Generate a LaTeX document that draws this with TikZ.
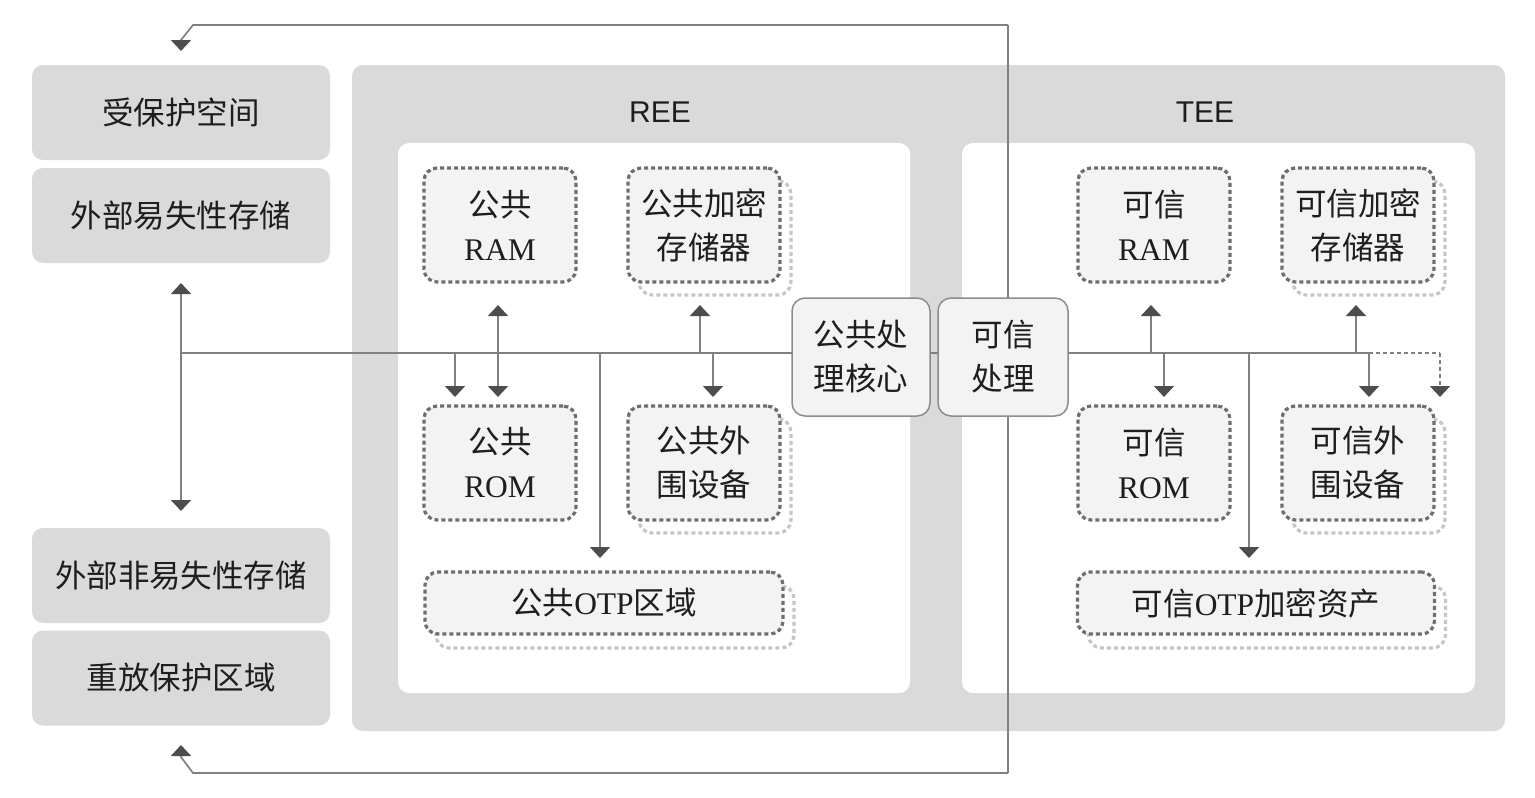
\documentclass[tikz,border=0pt]{standalone}
\usepackage{fontspec}
\setmainfont{Liberation Serif}
\newfontfamily\cjk{Noto Sans CJK SC}
\newfontfamily\sansf{Liberation Sans}
\usetikzlibrary{arrows.meta}
\definecolor{panel}{HTML}{DADADA}
\definecolor{dfill}{HTML}{F3F3F3}
\definecolor{dotc}{HTML}{6E6E6E}
\definecolor{shc}{HTML}{C6C6C6}
\definecolor{linec}{HTML}{808080}
\definecolor{arrc}{HTML}{4D4D4D}
\definecolor{txt}{HTML}{1E1E1E}
\definecolor{pborder}{HTML}{8C8C8C}
\begin{document}
\begin{tikzpicture}[x=1pt,y=-1pt,
  font=\fontsize{31.5}{44}\selectfont,
  panelbox/.style={fill=panel, rounded corners=11pt, inner sep=0pt, outer sep=0pt, text=txt},
  whitebox/.style={fill=white, rounded corners=11pt, inner sep=0pt, outer sep=0pt},
  dbox/.style={fill=dfill, draw=dotc, line width=3.2pt, dash pattern=on 4pt off 3pt,
    rounded corners=13pt, inner sep=0pt, outer sep=0pt, text=txt, align=center},
  sbox/.style={draw=shc, line width=3.2pt, dash pattern=on 4pt off 3pt,
    rounded corners=13pt, inner sep=0pt, outer sep=0pt},
  pbox/.style={fill=dfill, draw=pborder, line width=1.5pt, rounded corners=13pt,
    inner sep=0pt, outer sep=0pt, text=txt, align=center},
  ln/.style={draw=linec, line width=1.7pt},
  arr/.style={ln, -{Triangle[width=20pt,length=11pt,color=arrc]}},
  darr/.style={ln, {Triangle[width=20pt,length=11pt,color=arrc]}-{Triangle[width=20pt,length=11pt,color=arrc]}},
  dsh/.style={ln, dash pattern=on 4pt off 3pt},
]
\useasboundingbox (0,0) rectangle (1535,798);
\fill[white] (0,0) rectangle (1535,798);

% left boxes
\node[panelbox, minimum width=298pt, minimum height=95pt] (ps) at (181,112.5) {\cjk 受保护空间};
\node[panelbox, minimum width=298pt, minimum height=95pt] (ev) at (181,215.5) {\cjk 外部易失性存储};
\node[panelbox, minimum width=298pt, minimum height=95pt] (env) at (181,575.5) {\cjk 外部非易失性存储};
\node[panelbox, minimum width=298pt, minimum height=95pt] (rp) at (181,678) {\cjk 重放保护区域};

% big panel and sub panels
\node[panelbox, minimum width=1153pt, minimum height=666pt] (big) at (928.5,398) {};
\node[whitebox, minimum width=512pt, minimum height=550pt] (ree) at (654,418) {};
\node[whitebox, minimum width=513pt, minimum height=550pt] (tee) at (1218.5,418) {};
\node[text=txt, font=\sansf\fontsize{30}{36}\selectfont] (reel) at (660,112) {REE};
\node[text=txt, font=\sansf\fontsize{30}{36}\selectfont] (teel) at (1205,112) {TEE};

% coordinates
\coordinate (jL) at (181,353);
\coordinate (lt) at (181,283);
\coordinate (lb) at (181,511);
\coordinate (j455) at (455,353);  \coordinate (t455) at (455,397);
\coordinate (t498u) at (498,305); \coordinate (t498d) at (498,397);
\coordinate (j600) at (600,353);  \coordinate (t600) at (600,558);
\coordinate (j700) at (700,353);  \coordinate (t700) at (700,305);
\coordinate (j713) at (713,353);  \coordinate (t713) at (713,397);
\coordinate (j1151) at (1151,353); \coordinate (t1151) at (1151,305);
\coordinate (j1164) at (1164,353); \coordinate (t1164) at (1164,397);
\coordinate (j1249) at (1249,353); \coordinate (t1249) at (1249,558);
\coordinate (j1356) at (1356,353); \coordinate (t1356) at (1356,305);
\coordinate (j1369) at (1369,353); \coordinate (t1369) at (1369,397);
\coordinate (jd) at (1440,353);    \coordinate (td) at (1440,397);
\coordinate (topR) at (1008,25);  \coordinate (topL) at (193,25);
\coordinate (topK) at (181,40);   \coordinate (topT) at (181,51);
\coordinate (botR) at (1008,773); \coordinate (botL) at (193,773);
\coordinate (botK) at (181,757);  \coordinate (botT) at (181,745);

% loop lines
\draw[ln] (topR) -- (botR);
\draw[arr] (topR) -- (topL) -- (topK) -- (topT);
\draw[arr] (botR) -- (botL) -- (botK) -- (botT);

% processing nodes
\node[pbox, minimum width=138pt, minimum height=118pt] (core) at (861,357) {\cjk 公共处\\\cjk 理核心};
\node[pbox, minimum width=130pt, minimum height=118pt] (trust) at (1003,357) {\cjk 可信\\\cjk 处理};

% bus
\draw[ln] (jL) -- (jL -| core.west);
\draw[ln] (core.east |- jL) -- (trust.west |- jL);
\draw[ln] (trust.east |- jL) -- (j1369);
\draw[dsh] (j1369) -- (jd);
\draw[dsh, -{Triangle[width=20pt,length=11pt,color=arrc]}] (jd) -- (td);
\draw[darr] (lt) -- (lb);
\draw[arr] (j455) -- (t455);
\draw[darr] (t498u) -- (t498d);
\draw[arr] (j600) -- (t600);
\draw[arr] (j700) -- (t700);
\draw[arr] (j713) -- (t713);
\draw[arr] (j1151) -- (t1151);
\draw[arr] (j1164) -- (t1164);
\draw[arr] (j1249) -- (t1249);
\draw[arr] (j1356) -- (t1356);
\draw[arr] (j1369) -- (t1369);

% REE boxes
\node[sbox, minimum width=152pt, minimum height=114pt] (pcrys) at (715,238) {};
\node[sbox, minimum width=152pt, minimum height=114pt] (ppers) at (715,476) {};
\node[sbox, minimum width=358pt, minimum height=62pt] (potps) at (615,617) {};
\node[dbox, minimum width=152pt, minimum height=114pt] (pram) at (500,225) {\cjk 公共\\RAM};
\node[dbox, minimum width=152pt, minimum height=114pt] (pcry) at (704,225) {\cjk 公共加密\\\cjk 存储器};
\node[dbox, minimum width=152pt, minimum height=114pt] (prom) at (500,463) {\cjk 公共\\ROM};
\node[dbox, minimum width=152pt, minimum height=114pt] (pper) at (704,463) {\cjk 公共外\\\cjk 围设备};
\node[dbox, minimum width=358pt, minimum height=62pt] (potp) at (604,603) {{\cjk 公共}OTP{\cjk 区域}};

% TEE boxes
\node[sbox, minimum width=152pt, minimum height=114pt] (tcrys) at (1369,238) {};
\node[sbox, minimum width=152pt, minimum height=114pt] (tpers) at (1369,476) {};
\node[sbox, minimum width=357pt, minimum height=62pt] (totps) at (1267,617) {};
\node[dbox, minimum width=152pt, minimum height=114pt] (tram) at (1154,225) {\cjk 可信\\RAM};
\node[dbox, minimum width=152pt, minimum height=114pt] (tcry) at (1358,225) {\cjk 可信加密\\\cjk 存储器};
\node[dbox, minimum width=152pt, minimum height=114pt] (trom) at (1154,463) {\cjk 可信\\ROM};
\node[dbox, minimum width=152pt, minimum height=114pt] (tper) at (1358,463) {\cjk 可信外\\\cjk 围设备};
\node[dbox, minimum width=357pt, minimum height=62pt] (totp) at (1256,603) {{\cjk 可信}OTP{\cjk 加密资产}};
\end{tikzpicture}
\end{document}
